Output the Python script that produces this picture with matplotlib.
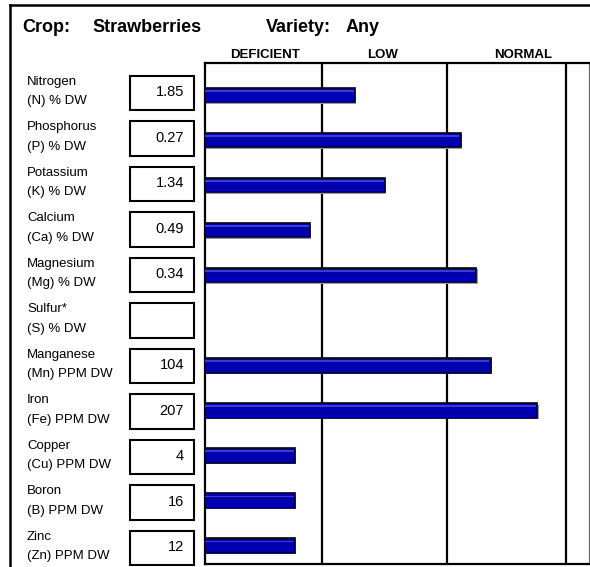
import matplotlib.pyplot as plt
from matplotlib.transforms import blended_transform_factory
from matplotlib.patches import Rectangle

plt.rcParams["font.family"] = ["Liberation Sans", "DejaVu Sans"]

crop = "Strawberries"
variety = "Any"
nutrients = ["Nitrogen", "Phosphorus", "Potassium", "Calcium", "Magnesium", "Sulfur*",
             "Manganese", "Iron", "Copper", "Boron", "Zinc"]
units = ["(N) % DW", "(P) % DW", "(K) % DW", "(Ca) % DW", "(Mg) % DW", "(S) % DW",
         "(Mn) PPM DW", "(Fe) PPM DW", "(Cu) PPM DW", "(B) PPM DW", "(Zn) PPM DW"]
values = ["1.85", "0.27", "1.34", "0.49", "0.34", "", "104", "207", "4", "16", "12"]
# bar length on the sufficiency scale (zone boundaries below)
levels = [125, 213, 150, 87.5, 226, None, 238, 277, 75, 75, 75]
zones = ["DEFICIENT", "LOW", "NORMAL"]
zone_edges = [0, 97.5, 201.7, 301]
header_pos = [50, 148, 265]

W, H = 590, 567
fig = plt.figure(figsize=(W / 100, H / 100), dpi=100)

# outer frame
fig.add_artist(plt.Line2D([10 / W, 10 / W], [0, 1 - 5 / H], color="black", lw=1.8))
fig.add_artist(plt.Line2D([10 / W, 1], [1 - 5 / H, 1 - 5 / H], color="black", lw=1.8))

x0, x1, ytop, ybot = 205, 589, 63, 564
rect = [x0 / W, 1 - ybot / H, (x1 - x0) / W, (ybot - ytop) / H]

# invisible axes holding the left-hand label rows
lab = fig.add_axes(rect)
lab.set_ylim(10.35, -0.66)
lab.axis("off")

ax = fig.add_axes(rect)
ax.set_xlim(0, 320)
ax.set_ylim(10.41, -0.71)
for s in ax.spines.values():
    s.set_color("black")
    s.set_linewidth(1.6)
ax.spines["right"].set_linewidth(0.8)
ax.spines["right"].set_color("#666666")
ax.set_xticks([])
ax.set_yticks([])

for e in zone_edges[1:]:
    ax.axvline(e, color="black", lw=1.6)

for i, v in enumerate(levels):
    if v is None:
        continue
    ax.barh(i + 0.03, v, height=0.32, left=1.2, color="#9a9a9a", zorder=2)
    ax.barh(i, v, height=0.32, color="#0000b0", edgecolor="#000028", lw=1.2, zorder=3)
    ax.barh(i - 0.09, v - 1, height=0.04, color="#3a3ad8", lw=0, zorder=4)

# zone headers
for z, p in zip(zones, header_pos):
    ax.text(p, -0.88, z, ha="center", va="center", fontsize=9.5, fontweight="bold")

# title
ty = 1 - 28 / H
fig.text(22 / W, ty, "Crop:", fontsize=13, fontweight="bold", va="center")
fig.text(92 / W, ty, crop, fontsize=13, fontweight="bold", va="center")
fig.text(266 / W, ty, "Variety:", fontsize=13, fontweight="bold", va="center")
fig.text(346 / W, ty, variety, fontsize=13, fontweight="bold", va="center")

tr = blended_transform_factory(fig.transFigure, lab.transData)
for i, (n, u, val) in enumerate(zip(nutrients, units, values)):
    fig.text(27 / W, i - 0.25, n, transform=tr, fontsize=9.5, va="center")
    fig.text(27 / W, i + 0.18, u, transform=tr, fontsize=9.5, va="center")
    fig.add_artist(Rectangle((130 / W, i - 0.38), 64 / W, 0.76, transform=tr,
                             fill=False, edgecolor="black", lw=1.5))
    fig.text(184 / W, i - 0.02, val, transform=tr, fontsize=10.5, ha="right",
             va="center")

fig.savefig("out.png", dpi=100)
